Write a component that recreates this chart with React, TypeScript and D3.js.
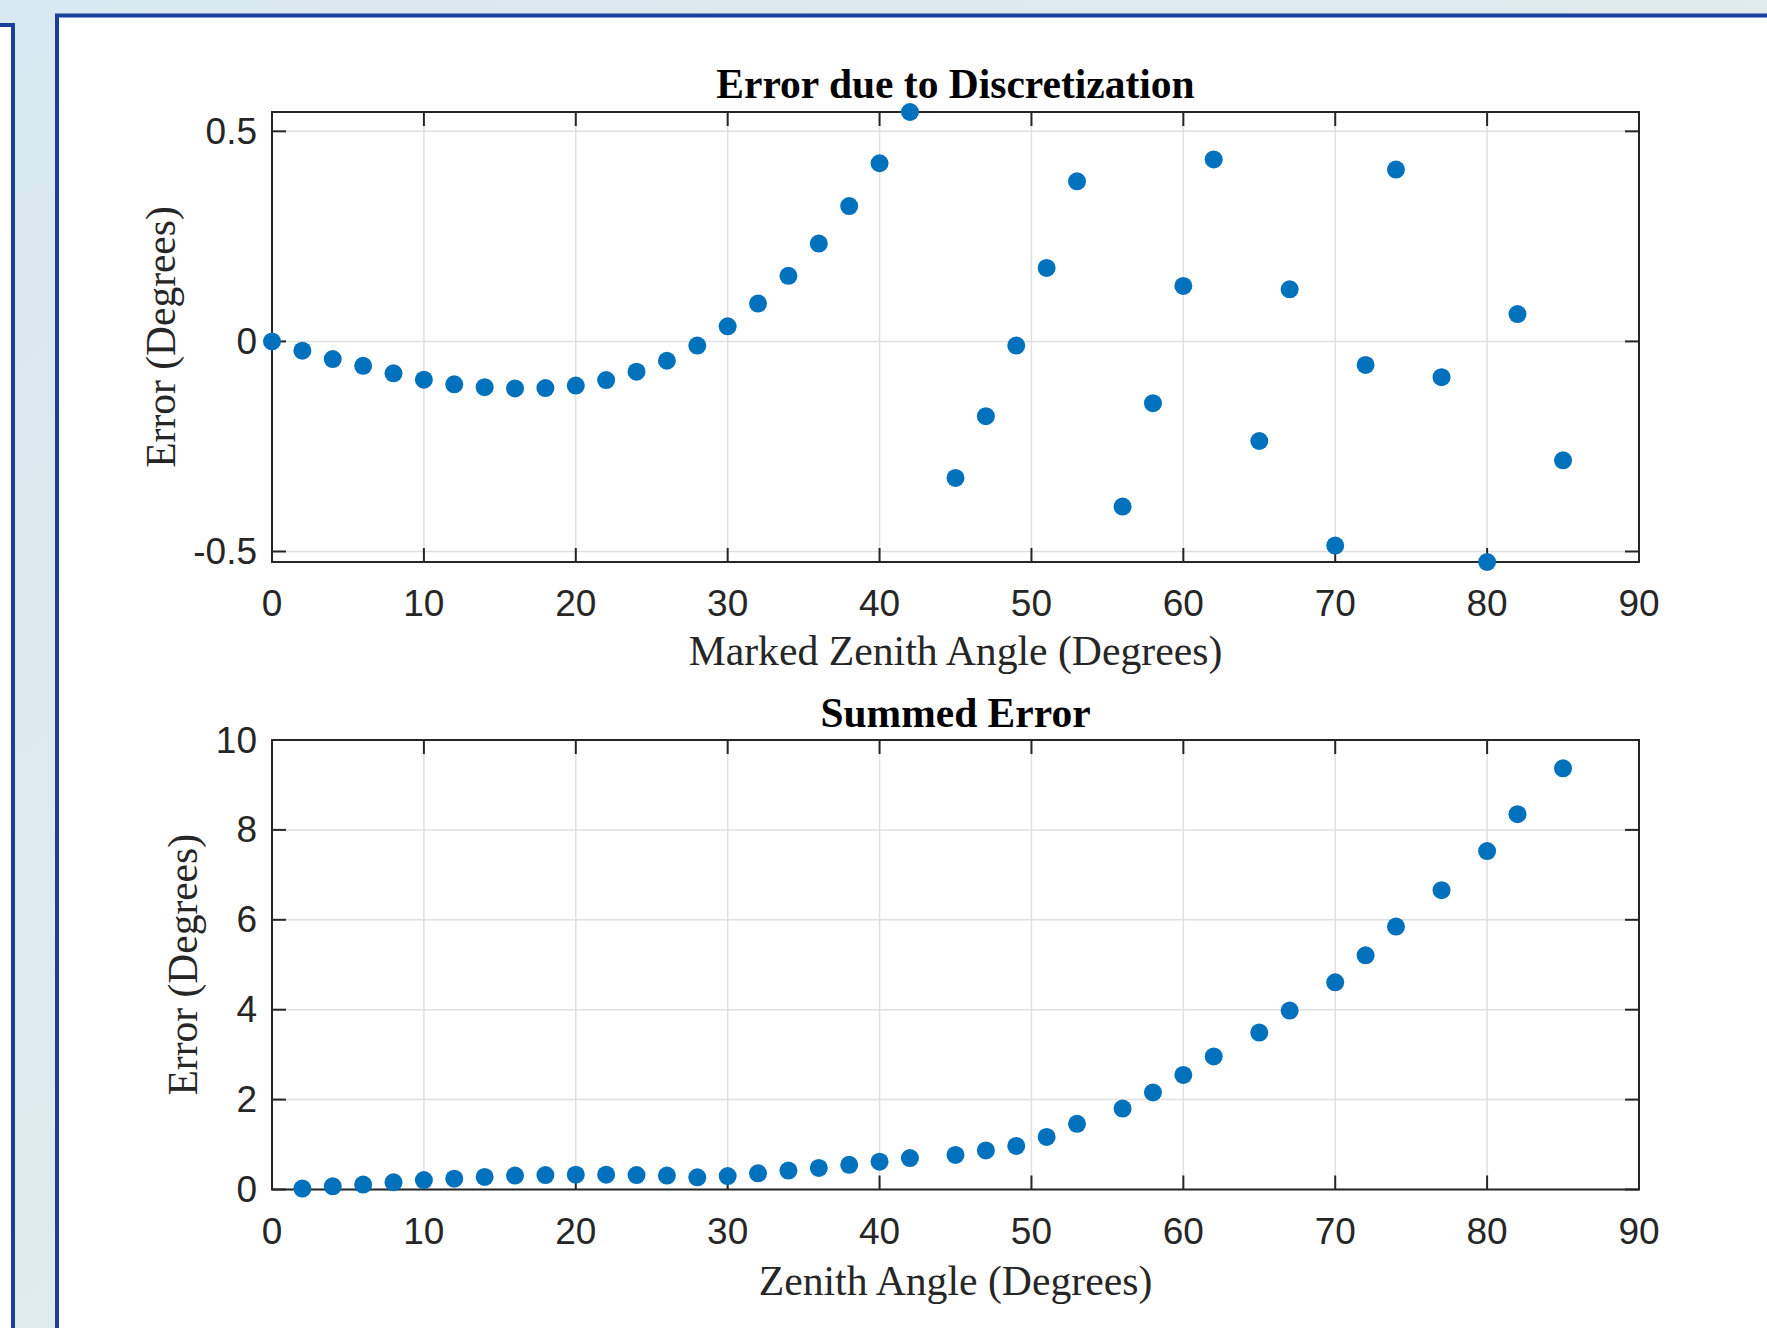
import React from "react";
import * as d3 from "d3";

// ---------- Data ----------
const angles: number[] = [0, 2, 4, 6, 8, 10, 12, 14, 16, 18, 20, 22, 24, 26, 28, 30, 32, 34, 36, 38, 40, 42, 45, 47, 49, 51, 53, 56, 58, 60, 62, 65, 67, 70, 72, 74, 77, 80, 82, 85];
const discretizationError: number[] = [0, -0.022, -0.042, -0.058, -0.076, -0.091, -0.102, -0.109, -0.112, -0.111, -0.105, -0.092, -0.072, -0.046, -0.01, 0.036, 0.09, 0.156, 0.233, 0.322, 0.424, 0.546, -0.325, -0.178, -0.01, 0.175, 0.381, -0.393, -0.147, 0.132, 0.433, -0.237, 0.124, -0.486, -0.056, 0.409, -0.085, -0.525, 0.065, -0.283];

const summedAngles: number[] = [2, 4, 6, 8, 10, 12, 14, 16, 18, 20, 22, 24, 26, 28, 30, 32, 34, 36, 38, 40, 42, 45, 47, 49, 51, 53, 56, 58, 60, 62, 65, 67, 70, 72, 74, 77, 80, 82, 85];
const summedError: number[] = [0.02, 0.07, 0.11, 0.16, 0.21, 0.24, 0.28, 0.31, 0.32, 0.33, 0.33, 0.32, 0.31, 0.27, 0.3, 0.36, 0.42, 0.48, 0.55, 0.62, 0.7, 0.77, 0.87, 0.97, 1.17, 1.46, 1.8, 2.16, 2.55, 2.96, 3.49, 3.98, 4.61, 5.21, 5.85, 6.66, 7.53, 8.35, 9.37];

const xTicks: number[] = [0, 10, 20, 30, 40, 50, 60, 70, 80, 90];
const topYTicks: number[] = [-0.5, 0, 0.5];
const bottomYTicks: number[] = [0, 2, 4, 6, 8, 10];

const topTitle = "Error due to Discretization";
const topXLabel = "Marked Zenith Angle (Degrees)";
const bottomTitle = "Summed Error";
const bottomXLabel = "Zenith Angle (Degrees)";
const yLabelText = "Error (Degrees)";

// ---------- Style ----------
const W = 1767;
const H = 1328;
const DOT = "#0072BD";
const AXIS = "#262626";
const GRID = "#e0e0e0";
const FRAME = "#1b3f9c";
const SERIF = "'Liberation Serif', 'Times New Roman', serif";
const SANS = "'Liberation Sans', Arial, Helvetica, sans-serif";

type PanelProps = {
  xs: number[];
  ys: number[];
  yDomain: [number, number];
  yTicks: number[];
  yFormat: (v: number) => string;
  top: number;
  bottom: number;
  title: string;
  titleY: number;
  xLabel: string;
  xLabelY: number;
  yLabelX: number;
  xTickLabelY: number;
};

const LEFT = 272;
const RIGHT = 1639;
const TICK = 14;
const TICK_FONT = 37;

function Panel(p: PanelProps) {
  const x = d3.scaleLinear().domain([0, 90]).range([LEFT, RIGHT]);
  const y = d3.scaleLinear().domain(p.yDomain).range([p.bottom, p.top]);
  const cx = (LEFT + RIGHT) / 2;
  const cy = (p.top + p.bottom) / 2;
  return (
    <g>
      <rect x={LEFT} y={p.top} width={RIGHT - LEFT} height={p.bottom - p.top} fill="#fff" />
      {/* grid */}
      {xTicks.map((t) => (
        <line key={"gx" + t} x1={x(t)} x2={x(t)} y1={p.top} y2={p.bottom} stroke={GRID} strokeWidth={1.5} />
      ))}
      {p.yTicks.map((t) => (
        <line key={"gy" + t} x1={LEFT} x2={RIGHT} y1={y(t)} y2={y(t)} stroke={GRID} strokeWidth={1.5} />
      ))}
      {/* ticks */}
      {xTicks.map((t) => (
        <g key={"tx" + t}>
          <line x1={x(t)} x2={x(t)} y1={p.bottom} y2={p.bottom - TICK} stroke={AXIS} strokeWidth={2} />
          <line x1={x(t)} x2={x(t)} y1={p.top} y2={p.top + TICK} stroke={AXIS} strokeWidth={2} />
          <text x={x(t)} y={p.xTickLabelY} textAnchor="middle" dominantBaseline="central" fontFamily={SANS} fontSize={TICK_FONT} fill={AXIS}>
            {t}
          </text>
        </g>
      ))}
      {p.yTicks.map((t) => (
        <g key={"ty" + t}>
          <line x1={LEFT} x2={LEFT + TICK} y1={y(t)} y2={y(t)} stroke={AXIS} strokeWidth={2} />
          <line x1={RIGHT} x2={RIGHT - TICK} y1={y(t)} y2={y(t)} stroke={AXIS} strokeWidth={2} />
          <text x={LEFT - 15} y={y(t)} textAnchor="end" dominantBaseline="central" fontFamily={SANS} fontSize={TICK_FONT} fill={AXIS}>
            {p.yFormat(t)}
          </text>
        </g>
      ))}
      {/* box */}
      <rect x={LEFT} y={p.top} width={RIGHT - LEFT} height={p.bottom - p.top} fill="none" stroke={AXIS} strokeWidth={2} />
      {/* points */}
      {p.xs.map((v, i) => (
        <circle key={"pt" + i} cx={x(v)} cy={y(p.ys[i])} r={9} fill={DOT} />
      ))}
      {/* labels */}
      <text x={cx} y={p.titleY} textAnchor="middle" dominantBaseline="central" fontFamily={SERIF} fontWeight="bold" fontSize={41.5} fill="#000">
        {p.title}
      </text>
      <text x={cx} y={p.xLabelY} textAnchor="middle" dominantBaseline="central" fontFamily={SERIF} fontSize={41.7} fill={AXIS}>
        {p.xLabel}
      </text>
      <text
        transform={`translate(${p.yLabelX},${cy}) rotate(-90)`}
        textAnchor="middle"
        dominantBaseline="central"
        fontFamily={SERIF}
        fontSize={41.5}
        fill={AXIS}
      >
        {yLabelText}
      </text>
    </g>
  );
}

export default function App() {
  const topExtent = d3.extent(discretizationError) as [number, number];
  return (
    <svg width={W} height={H} style={{ position: "absolute", left: 0, top: 0, display: "block" }}>
      <defs>
        <linearGradient id="bg" x1="0" y1="0" x2="1" y2="1">
          <stop offset="0" stopColor="#d9e9f1" />
          <stop offset="1" stopColor="#e4ede8" />
        </linearGradient>
      </defs>
      <rect x={0} y={0} width={W} height={H} fill="url(#bg)" />
      <rect x={-20} y={25} width={33} height={1400} fill="#fff" stroke={FRAME} strokeWidth={4} />
      <rect x={57} y={15.5} width={1800} height={1400} fill="#fff" stroke={FRAME} strokeWidth={4} />
      <Panel
        xs={angles}
        ys={discretizationError}
        yDomain={topExtent}
        yTicks={topYTicks}
        yFormat={(v) => (v === 0 ? "0" : String(v))}
        top={112}
        bottom={562}
        title={topTitle}
        titleY={84}
        xLabel={topXLabel}
        xLabelY={651}
        yLabelX={161}
        xTickLabelY={603}
      />
      <Panel
        xs={summedAngles}
        ys={summedError}
        yDomain={[0, 10]}
        yTicks={bottomYTicks}
        yFormat={(v) => String(v)}
        top={740}
        bottom={1189.5}
        title={bottomTitle}
        titleY={713}
        xLabel={bottomXLabel}
        xLabelY={1281}
        yLabelX={183}
        xTickLabelY={1231}
      />
    </svg>
  );
}
